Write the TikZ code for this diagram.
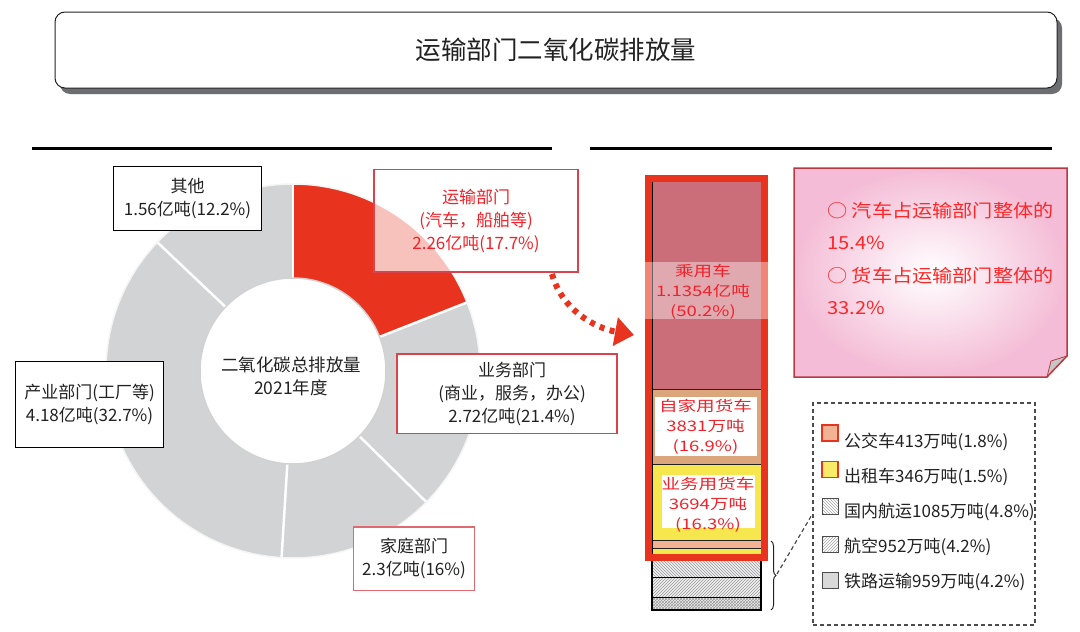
\documentclass[tikz,border=0pt]{standalone}
\usepackage{fontspec}
\setmainfont{Noto Sans CJK SC}
\newfontfamily\barfont[FakeStretch=1.28]{Noto Sans CJK SC}
\newfontfamily\notefont[FakeStretch=1.12]{Noto Sans CJK SC}
\usetikzlibrary{patterns,shadows,arrows.meta,decorations.pathreplacing}
\definecolor{redA}{HTML}{E8341F}
\definecolor{donutgray}{HTML}{D1D3D4}
\definecolor{boxred}{HTML}{D9434E}
\definecolor{txtred}{HTML}{F2222A}
\definecolor{carpink}{HTML}{CC6E7A}
\definecolor{tanbar}{HTML}{DCA67C}
\definecolor{ylw}{HTML}{F6E74F}
\definecolor{peach}{HTML}{F2B394}
\definecolor{notepink}{HTML}{F4BCD6}
\definecolor{shadowgray}{HTML}{6D6E71}
\definecolor{notered}{HTML}{FF2626}
\definecolor{darktxt}{HTML}{222222}
\tikzset{
  lab/.style={draw=black, line width=1.3pt, fill=white, align=center, inner sep=0pt,
    text=darktxt, font=\fontsize{17}{23}\selectfont},
  labred/.style={lab, draw=boxred},
  bartxt/.style={align=center, inner sep=0pt, text=txtred, font=\barfont\fontsize{14.5}{20}\selectfont},
  swatch/.style={minimum width=16pt, minimum height=16pt, inner sep=0pt, line width=1pt},
  legtxt/.style={anchor=west, inner sep=0pt, text=darktxt, font=\fontsize{17}{20}\selectfont},
}
\begin{document}
\begin{tikzpicture}[x=1pt,y=-1pt]
\useasboundingbox (0,0) rectangle (1080,632);
\fill[white] (0,0) rectangle (1080,632);

% title
\node[draw=darktxt, line width=1pt, fill=white, rounded corners=10pt,
  minimum width=1002pt, minimum height=76pt, inner sep=0pt,
  drop shadow={shadow xshift=5pt, shadow yshift=-6pt, fill=shadowgray, opacity=1},
  font=\fontsize{25.5}{30}\selectfont, text=darktxt] (title) at (556,50) {运输部门二氧化碳排放量};

% rules
\draw[line width=3pt] (32,148) -- (552,148);
\draw[line width=3pt] (590,148) -- (1052,148);

% donut
\begin{scope}[shift={(293,371)}, y=1pt]
  \fill[donutgray, even odd rule] (0,0) circle[radius=187] (0,0) circle[radius=93];
  \fill[redA] (90:187) arc[start angle=90, end angle=21.5, radius=187]
     -- (21.5:93) arc[start angle=21.5, end angle=90, radius=93] -- cycle;
  \foreach \a in {90,21.5,-44.5,-93.5,136.5}
    \draw[white, line width=2.5pt] (\a:92) -- (\a:188);
  \draw[white!92!gray, line width=1.5pt] (0,0) circle[radius=187];
  \draw[gray!35, line width=1.5pt, fill=white] (0,0) circle[radius=93];
\end{scope}
\node[align=center, inner sep=0pt, text=darktxt, font=\fontsize{17.5}{23}\selectfont] (total) at (291,376) {二氧化碳总排放量\\2021年度};

% pie labels
\node[lab, minimum width=148pt, minimum height=63.5pt] (other) at (187.5,198.5) {其他\\1.56亿吨(12.2\%)};
\node[lab, minimum width=148.5pt, minimum height=86pt] (industry) at (89.5,404.7) {产业部门(工厂等)\\4.18亿吨(32.7\%)};
\node[labred, minimum width=204pt, minimum height=102.6pt, fill opacity=0.7, text opacity=1, text=txtred] (transport) at (476,220.7) {运输部门\\(汽车，船舶等)\\2.26亿吨(17.7\%)};
\node[labred, minimum width=220pt, minimum height=79.3pt] (business) at (507,393.7) {\hspace*{10pt}业务部门\\\hspace*{10pt}(商业，服务，办公)\\\hspace*{10pt}2.72亿吨(21.4\%)};
\node[labred, draw=boxred!80, minimum width=121.4pt, minimum height=63.5pt] (household) at (414,558.8) {家庭部门\\2.3亿吨(16\%)};

% stacked bar
\fill[carpink] (652,182) rectangle (761,389.5);
\fill[tanbar] (652,389.5) rectangle (761,464);
\fill[ylw] (652,464) rectangle (761,540.5);
\fill[peach] (652,540.5) rectangle (761,548);
\fill[ylw] (652,548) rectangle (761,556);
\foreach \yy in {389.5,464,540.5,548}
  \draw[line width=0.9pt, darktxt] (652,\yy) -- (761,\yy);
\draw[line width=1.3pt] (652.5,182) -- (652.5,556);
\fill[gray!12] (652,560) rectangle (761,610);
\fill[pattern=north west lines, pattern color=gray!80] (652,560) rectangle (761,577.5);
\fill[pattern=north east lines, pattern color=gray!80] (652,577.5) rectangle (761,597.5);
\fill[pattern=crosshatch, pattern color=gray!80] (652,597.5) rectangle (761,610);
\draw[line width=1.1pt] (652,560) rectangle (761,610);
\draw[line width=1pt] (652,577.5) -- (761,577.5) (652,597.5) -- (761,597.5);
\node[draw=redA, line width=7pt, minimum width=116pt, minimum height=379pt, inner sep=0pt] (bar) at (706.5,368) {};
\fill[white, opacity=0.4] (645,262) rectangle (768,319);
\fill[white] (654.5,397.3) rectangle (756.7,456);
\fill[white] (661.7,475) rectangle (755,528.3);
\node[bartxt] (car) at (703,291.7) {乘用车\\1.1354亿吨\\(50.2\%)};
\node[bartxt] (truckA) at (705.5,426.5) {自家用货车\\3831万吨\\(16.9\%)};
\node[bartxt] (truckB) at (708,505) {业务用货车\\3694万吨\\(16.3\%)};

% dotted arrow
\coordinate (arrS) at (552,274);
\coordinate (arrE) at (634,335);
\draw[redA, line width=6pt, dash pattern=on 5pt off 5.5pt, -{Triangle[length=19pt, width=28pt]}]
  (arrS) .. controls (562,310) and (595,328) .. (arrE);

% bracket and legend
\draw[line width=1pt, darktxt, decorate, decoration={brace, amplitude=5pt}] (771,541) -- (771,610);
\coordinate (brtip) at (777,574);
\node[draw=gray!60!black, line width=1.2pt, dash pattern=on 4pt off 3pt,
  minimum width=222pt, minimum height=222pt, inner sep=0pt] (legend) at (924,514) {};
\draw[gray!60!black, line width=1.2pt, dash pattern=on 4pt off 3pt] (brtip) -- (legend.west);

\node[swatch, draw=redA, line width=1.8pt, fill=peach] (s1) at (830,433) {};
\node[swatch, draw=redA, line width=1.8pt, fill=ylw!85!white] (s2) at (830,469.5) {};
\node[swatch, draw=gray!60!black, pattern=north west lines, pattern color=gray!70] (s3) at (830,506.5) {};
\node[swatch, draw=gray!60!black, pattern=north east lines, pattern color=gray!70] (s4) at (830,544) {};
\node[swatch, draw=gray!60!black, fill=gray!30] (s5) at (830,580.7) {};
\node[legtxt] (l1) at (844,442) {公交车413万吨(1.8\%)};
\node[legtxt] (l2) at (844,476.5) {出租车346万吨(1.5\%)};
\node[legtxt] (l3) at (844,512) {国内航运1085万吨(4.8\%)};
\node[legtxt] (l4) at (844,546.5) {航空952万吨(4.2\%)};
\node[legtxt] (l5) at (844,581.5) {铁路运输959万吨(4.2\%)};

% note
\shade[inner color=white, outer color=notepink]
  (794,168) -- (1067,168) -- (1067,356) -- (1047,377) -- (794,377) -- cycle;
\fill[gray!45] (1047,377) -- (1051,361) -- (1067,356) -- cycle;
\draw[boxred!85!black, line width=1.5pt]
  (794,168) -- (1067,168) -- (1067,356) -- (1047,377) -- (794,377) -- cycle;
\draw[boxred!85!black, line width=0.8pt] (1047,377) -- (1051,361) -- (1067,356);
\node[anchor=west, align=left, inner sep=0pt, text=notered, font=\notefont\fontsize{18}{32.3}\selectfont] (note) at (827,258.5)
  {○ 汽车占运输部门整体的\\15.4\%\\○ 货车占运输部门整体的\\33.2\%};
\end{tikzpicture}
\end{document}
